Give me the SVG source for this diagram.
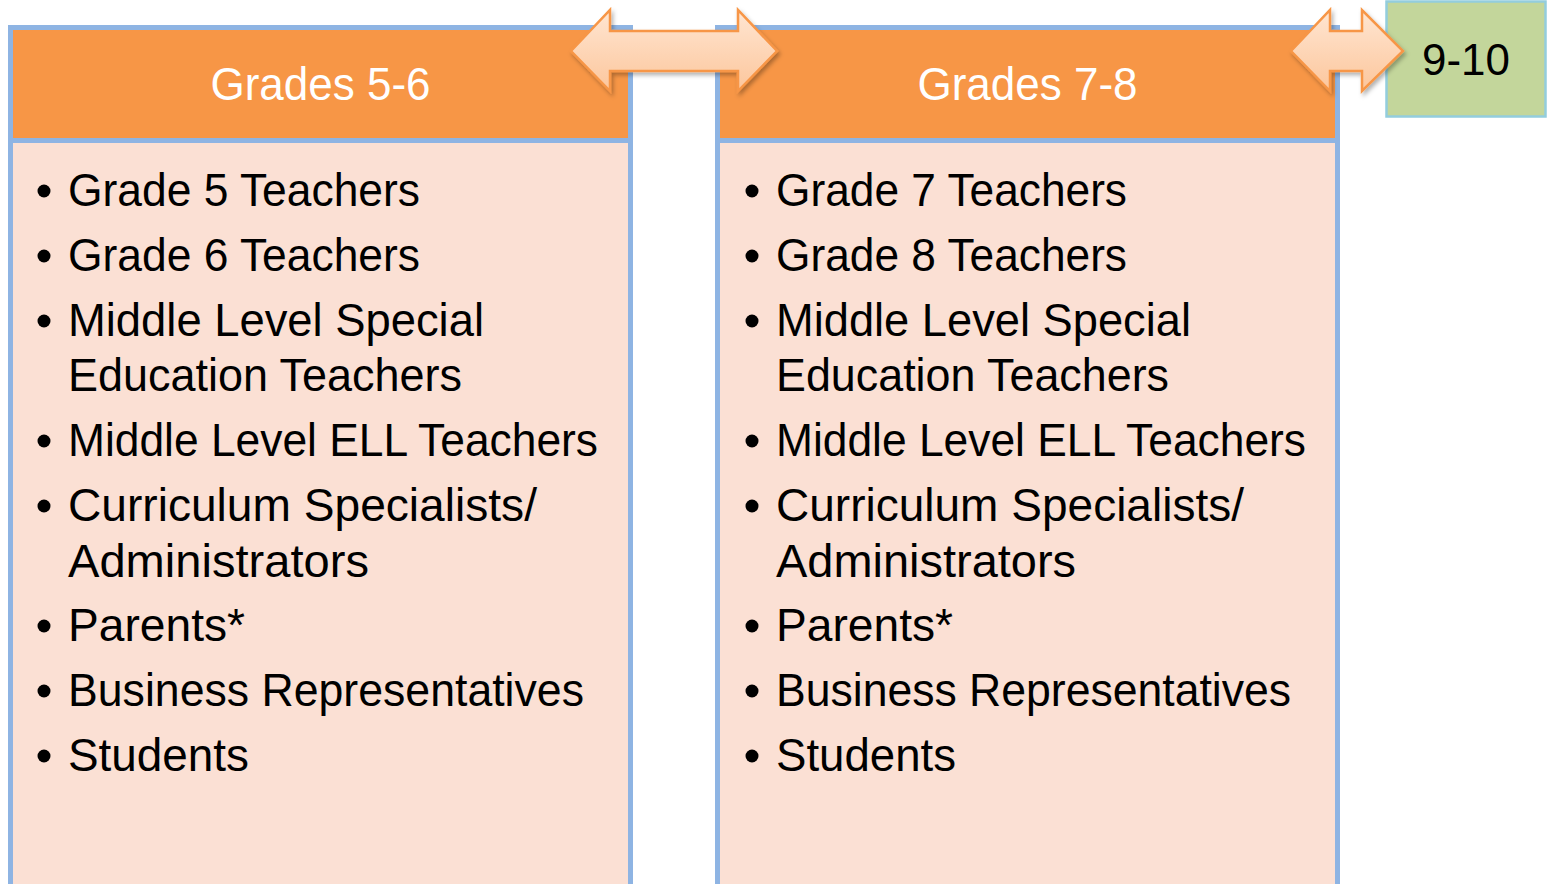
<svg xmlns="http://www.w3.org/2000/svg" width="1551" height="884" viewBox="0 0 1551 884">
  <style>
    .hdr { fill: #F79646; stroke: #8EB4E3; stroke-width: 5; }
    .body { fill: #FBE0D4; stroke: #8EB4E3; stroke-width: 5; }
    .htxt { font-family: "Liberation Sans", Arial, sans-serif; font-size: 46px; fill: #FFFFFF; text-anchor: middle; }
    .btxt { font-family: "Liberation Sans", Arial, sans-serif; font-size: 46px; fill: #000000; }
    .bul { fill: #000000; }
    .gtxt { font-family: "Liberation Sans", Arial, sans-serif; font-size: 45px; fill: #000000; text-anchor: middle; }
    .arrow { fill: url(#arrowGrad); stroke: #F79646; stroke-width: 2.5; stroke-linejoin: miter; filter: url(#shadow); }
  </style>
  <defs>
    <linearGradient id="arrowGrad" x1="0" y1="0" x2="0" y2="1">
      <stop offset="0" stop-color="#FFE6D2"/>
      <stop offset="1" stop-color="#FCC69C"/>
    </linearGradient>
    <filter id="shadow" x="-10%" y="-20%" width="120%" height="150%">
      <feDropShadow dx="2" dy="3" stdDeviation="2" flood-color="#000000" flood-opacity="0.3"/>
    </filter>
  </defs>
  <rect width="1551" height="884" fill="#FFFFFF"/>

  <g id="panel-grades-5-6">
    <rect class="body" x="10.5" y="140.5" width="620" height="760"/>
    <rect class="hdr" x="10.5" y="27.5" width="620" height="113"/>
    <text class="htxt" x="320.5" y="100" textLength="220" lengthAdjust="spacingAndGlyphs">Grades 5-6</text>
    <g class="bul">
      <circle cx="44" cy="191" r="6.5"/>
      <circle cx="44" cy="256" r="6.5"/>
      <circle cx="44" cy="321" r="6.5"/>
      <circle cx="44" cy="441" r="6.5"/>
      <circle cx="44" cy="506" r="6.5"/>
      <circle cx="44" cy="626" r="6.5"/>
      <circle cx="44" cy="691" r="6.5"/>
      <circle cx="44" cy="756" r="6.5"/>
    </g>
    <text class="btxt" x="68" y="206" textLength="352" lengthAdjust="spacingAndGlyphs">Grade 5 Teachers</text>
    <text class="btxt" x="68" y="271" textLength="352" lengthAdjust="spacingAndGlyphs">Grade 6 Teachers</text>
    <text class="btxt" x="68" y="336" textLength="416" lengthAdjust="spacingAndGlyphs">Middle Level Special</text>
    <text class="btxt" x="68" y="391" textLength="394" lengthAdjust="spacingAndGlyphs">Education Teachers</text>
    <text class="btxt" x="68" y="456" textLength="530" lengthAdjust="spacingAndGlyphs">Middle Level ELL Teachers</text>
    <text class="btxt" x="68" y="521" textLength="469" lengthAdjust="spacingAndGlyphs">Curriculum Specialists/</text>
    <text class="btxt" x="68" y="577" textLength="301" lengthAdjust="spacingAndGlyphs">Administrators</text>
    <text class="btxt" x="68" y="641" textLength="177" lengthAdjust="spacingAndGlyphs">Parents*</text>
    <text class="btxt" x="68" y="706" textLength="516" lengthAdjust="spacingAndGlyphs">Business Representatives</text>
    <text class="btxt" x="68" y="771" textLength="181" lengthAdjust="spacingAndGlyphs">Students</text>
  </g>

  <g id="panel-grades-7-8">
    <rect class="body" x="717.5" y="140.5" width="620" height="760"/>
    <rect class="hdr" x="717.5" y="27.5" width="620" height="113"/>
    <text class="htxt" x="1027.5" y="100" textLength="220" lengthAdjust="spacingAndGlyphs">Grades 7-8</text>
    <g class="bul">
      <circle cx="752" cy="191" r="6.5"/>
      <circle cx="752" cy="256" r="6.5"/>
      <circle cx="752" cy="321" r="6.5"/>
      <circle cx="752" cy="441" r="6.5"/>
      <circle cx="752" cy="506" r="6.5"/>
      <circle cx="752" cy="626" r="6.5"/>
      <circle cx="752" cy="691" r="6.5"/>
      <circle cx="752" cy="756" r="6.5"/>
    </g>
    <text class="btxt" x="776" y="206" textLength="351" lengthAdjust="spacingAndGlyphs">Grade 7 Teachers</text>
    <text class="btxt" x="776" y="271" textLength="351" lengthAdjust="spacingAndGlyphs">Grade 8 Teachers</text>
    <text class="btxt" x="776" y="336" textLength="415" lengthAdjust="spacingAndGlyphs">Middle Level Special</text>
    <text class="btxt" x="776" y="391" textLength="393" lengthAdjust="spacingAndGlyphs">Education Teachers</text>
    <text class="btxt" x="776" y="456" textLength="530" lengthAdjust="spacingAndGlyphs">Middle Level ELL Teachers</text>
    <text class="btxt" x="776" y="521" textLength="468" lengthAdjust="spacingAndGlyphs">Curriculum Specialists/</text>
    <text class="btxt" x="776" y="577" textLength="300" lengthAdjust="spacingAndGlyphs">Administrators</text>
    <text class="btxt" x="776" y="641" textLength="177" lengthAdjust="spacingAndGlyphs">Parents*</text>
    <text class="btxt" x="776" y="706" textLength="515" lengthAdjust="spacingAndGlyphs">Business Representatives</text>
    <text class="btxt" x="776" y="771" textLength="180" lengthAdjust="spacingAndGlyphs">Students</text>
  </g>

  <g id="node-9-10">
    <rect x="1386.5" y="1.5" width="159" height="115" fill="#C3D69B" stroke="#93CDDD" stroke-width="2.5"/>
    <text class="gtxt" x="1466" y="75" textLength="88" lengthAdjust="spacingAndGlyphs">9-10</text>
  </g>

  <g id="connectors">
    <polygon class="arrow" points="571,51 610,10 610,31 738,31 738,10 777,51 738,91 738,71 610,71 610,91"/>
    <polygon class="arrow" points="1291,51 1330,10 1330,31 1362,31 1362,10 1403,51 1362,91 1362,71 1330,71 1330,91"/>
  </g>
</svg>
